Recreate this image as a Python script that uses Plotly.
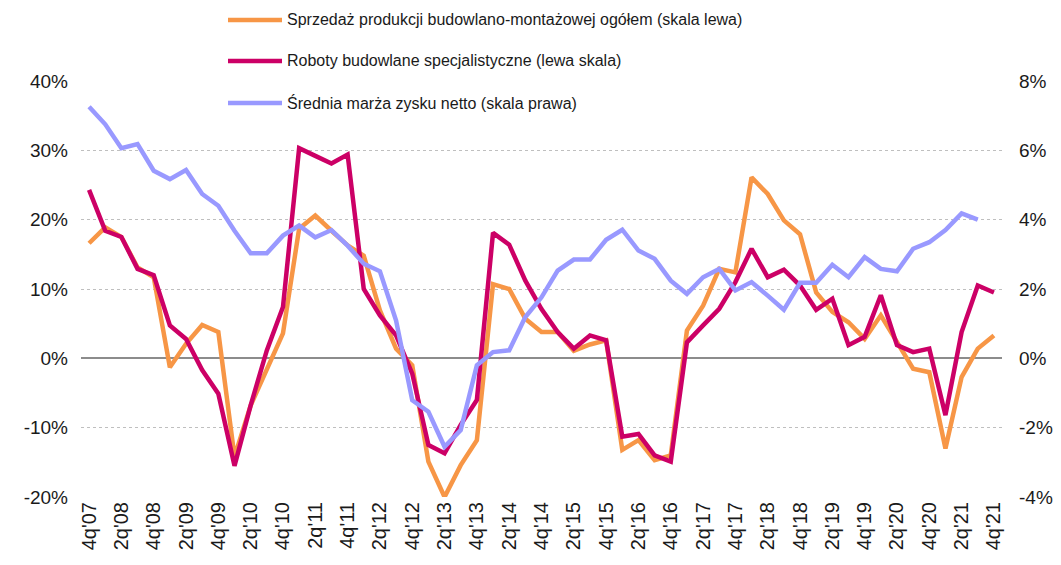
import plotly.graph_objects as go

quarters = [
    "4q'07",
    "1q'08", "2q'08", "3q'08", "4q'08",
    "1q'09", "2q'09", "3q'09", "4q'09",
    "1q'10", "2q'10", "3q'10", "4q'10",
    "1q'11", "2q'11", "3q'11", "4q'11",
    "1q'12", "2q'12", "3q'12", "4q'12",
    "1q'13", "2q'13", "3q'13", "4q'13",
    "1q'14", "2q'14", "3q'14", "4q'14",
    "1q'15", "2q'15", "3q'15", "4q'15",
    "1q'16", "2q'16", "3q'16", "4q'16",
    "1q'17", "2q'17", "3q'17", "4q'17",
    "1q'18", "2q'18", "3q'18", "4q'18",
    "1q'19", "2q'19", "3q'19", "4q'19",
    "1q'20", "2q'20", "3q'20", "4q'20",
    "1q'21", "2q'21", "3q'21", "4q'21",
]

# every second quarter is labelled
tick_labels = quarters[::2]

left_ticks = [-20, -10, 0, 10, 20, 30, 40]
left_text = ["-20%", "-10%", "0%", "10%", "20%", "30%", "40%"]
right_ticks = [-4, -2, 0, 2, 4, 6, 8]
right_text = ["-4%", "-2%", "0%", "2%", "4%", "6%", "8%"]

# left scale, %
sprzedaz = [16.6, 18.9, 17.5, 13.1, 11.7, -1.3, 2.1, 4.8, 3.8, -14.2,
            -6.8, -1.5, 3.6, 18.7, 20.6, 18.4, 16.3, 14.8, 6.9, 1.4,
            -1.0, -14.9, -20.0, -15.4, -11.8, 10.7, 10.0, 5.7, 3.8, 3.8,
            1.1, 2.0, 2.6, -13.2, -11.8, -14.7, -14.0, 4.0, 7.6, 12.9,
            12.4, 26.1, 23.7, 19.9, 17.9, 9.5, 6.7, 5.2, 2.8, 6.2,
            2.3, -1.5, -2.0, -13.0, -2.7, 1.4, 3.3]

roboty = [24.3, 18.4, 17.5, 12.9, 12.0, 4.75, 2.8, -1.7, -5.1, -15.5,
          -6.8, 1.15, 7.4, 30.3, 29.2, 28.1, 29.4, 10.0, 6.2, 3.3,
          -2.2, -12.5, -13.7, -9.6, -6.0, 18.1, 16.4, 11.2, 7.1, 3.8,
          1.4, 3.3, 2.6, -11.3, -10.9, -14.0, -14.9, 2.3, 4.75, 7.15,
          11.0, 15.8, 11.7, 12.8, 10.5, 7.0, 8.6, 1.9, 3.1, 9.1,
          1.9, 0.9, 1.4, -8.2, 3.8, 10.5, 9.5]

# right scale, %
marza = [7.26, 6.75, 6.06, 6.18, 5.41, 5.17, 5.43, 4.74, 4.40, 3.68,
         3.03, 3.03, 3.54, 3.83, 3.49, 3.70, 3.25, 2.73, 2.51, 1.09,
         -1.21, -1.54, -2.55, -2.07, -0.20, 0.18, 0.23, 1.19, 1.76, 2.53,
         2.85, 2.85, 3.42, 3.71, 3.11, 2.87, 2.24, 1.86, 2.34, 2.58,
         1.96, 2.20, 1.81, 1.40, 2.18, 2.18, 2.70, 2.34, 2.92, 2.58,
         2.51, 3.16, 3.35, 3.70, 4.18, 4.00, None]

series = [
    ("Sprzedaż produkcji budowlano-montażowej ogółem (skala lewa)", sprzedaz, "#F79646", "y"),
    ("Roboty budowlane specjalistyczne (lewa skala)", roboty, "#CC0066", "y"),
    ("Średnia marża zysku netto (skala prawa)", marza, "#9999FF", "y2"),
]

FONT = "Arial, Liberation Sans, sans-serif"
TXT = "#1a1a1a"

# page has an 8px body margin, so the figure is a bit smaller than the window
OFF = 8
W, H = 1061 - OFF, 565 - OFF
L, R, T, B = 81 - OFF, 59, 81 - OFF, 68


def px_to_paper(px, py):
    # page pixel -> paper coords
    fx, fy = px - OFF, py - OFF
    return (fx - L) / (W - L - R), (H - B - fy) / (H - T - B)


fig = go.Figure()
for name, vals, color, ax in series:
    fig.add_trace(go.Scatter(
        x=quarters, y=vals, mode="lines", name=name,
        line=dict(color=color, width=4.5),
        yaxis=ax,
    ))

# hand-made legend (Excel style: long line sample)
legend_rows = [20, 61, 103]
for (name, _, color, _), py in zip(series, legend_rows):
    x0, y0 = px_to_paper(228, py)
    x1, _ = px_to_paper(282, py)
    xt, _ = px_to_paper(285, py)
    fig.add_shape(type="line", xref="paper", yref="paper",
                  x0=x0, x1=x1, y0=y0, y1=y0,
                  line=dict(color=color, width=4.5))
    fig.add_annotation(xref="paper", yref="paper", x=xt, y=y0,
                       xanchor="left", yanchor="middle", showarrow=False,
                       text=name, font=dict(family=FONT, size=16, color=TXT))

fig.update_layout(
    width=W, height=H,
    paper_bgcolor="white",
    plot_bgcolor="white",
    font=dict(family=FONT, color=TXT, size=17),
    margin=dict(l=L, r=R, t=T, b=B, autoexpand=False),
    showlegend=False,
    xaxis=dict(
        type="category",
        categoryorder="array", categoryarray=quarters,
        range=[-0.5, len(quarters) - 0.5],
        tickmode="array", tickvals=tick_labels, ticktext=tick_labels,
        tickangle=-90,
        tickfont=dict(size=20, color=TXT),
        showgrid=False, showline=False, ticks="",
        automargin=False,
    ),
    yaxis=dict(
        range=[-20, 40],
        tickmode="array", tickvals=left_ticks, ticktext=left_text,
        tickfont=dict(size=19, color=TXT),
        showgrid=True, gridcolor="#BFBFBF", gridwidth=1, griddash="dot",
        zeroline=True, zerolinecolor="#8C8C8C", zerolinewidth=1.5,
        ticklabelstandoff=12,
        automargin=False,
    ),
    yaxis2=dict(
        range=[-4, 8],
        tickmode="array", tickvals=right_ticks, ticktext=right_text,
        overlaying="y", side="right",
        tickfont=dict(size=19, color=TXT),
        showgrid=False, zeroline=False,
        ticklabelstandoff=16,
        automargin=False,
    ),
)

fig.write_html("out.html")
